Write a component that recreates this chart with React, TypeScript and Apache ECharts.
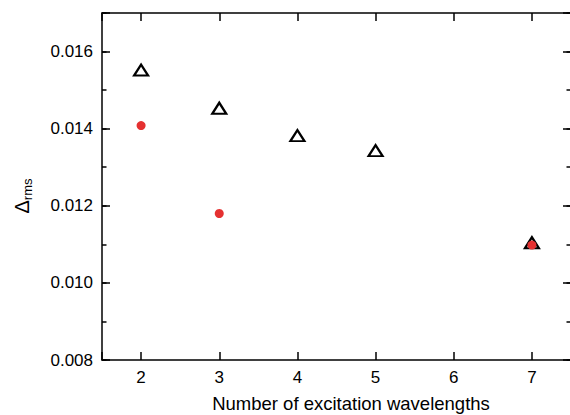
import React, { useEffect, useRef } from 'react';
import * as echarts from 'echarts';

// Data
const triangleX = [2, 3, 4, 5, 7];
const triangleY = [0.01552, 0.01453, 0.01382, 0.01343, 0.01104];
const dotX = [2, 3, 7];
const dotY = [0.01408, 0.0118, 0.01098];

const xTickLabels = ['2', '3', '4', '5', '6', '7'];
const yTickLabels = ['0.008', '0.010', '0.012', '0.014', '0.016'];

const xName = 'Number of excitation wavelengths';

const FONT = 'Liberation Sans, Arial, sans-serif';

export default function App() {
  const ref = useRef<HTMLDivElement>(null);

  useEffect(() => {
    document.body.style.margin = '0';
    if (!ref.current) return;
    const chart = echarts.init(ref.current, undefined, { renderer: 'svg' });

    const xLabelFmt = (v: number) => {
      const s = String(Math.round(v * 1000) / 1000);
      return xTickLabels.includes(s) ? s : '';
    };
    const yLabelFmt = (v: number) => {
      const s = v.toFixed(3);
      return yTickLabels.includes(s) ? s : '';
    };

    const lineStyle = { color: '#000', width: 1.5 };

    const xCommon = {
      type: 'value' as const,
      min: 1.5,
      max: 7.5,
      splitNumber: 6,
      splitLine: { show: false },
      axisLine: { show: true, onZero: false, lineStyle },
      axisTick: { show: true, inside: true, length: 8, lineStyle },
    };

    const yCommon = {
      type: 'value' as const,
      min: 0.008,
      max: 0.017,
      splitLine: { show: false },
    };

    chart.setOption({
      animation: false,
      backgroundColor: '#fff',
      grid: {
        left: 102,
        right: -1,
        top: 13,
        bottom: 55,
        containLabel: false,
        outerBoundsMode: 'none',
      },
      xAxis: [
        {
          ...xCommon,
          position: 'bottom',
          name: xName,
          nameLocation: 'middle',
          nameGap: 34,
          nameTextStyle: {
            fontFamily: FONT,
            fontSize: 18.5,
            color: '#000',
            padding: [0, 0, 0, 29],
          },
          axisLabel: {
            show: true,
            margin: 9,
            fontFamily: FONT,
            fontSize: 17,
            color: '#000',
            formatter: xLabelFmt,
          },
        },
        {
          ...xCommon,
          position: 'top',
          axisLabel: { show: false },
        },
      ],
      yAxis: [
        {
          ...yCommon,
          position: 'left',
          interval: 0.002,
          axisLine: { show: true, onZero: false, lineStyle },
          axisTick: { show: true, inside: true, length: 8, lineStyle },
          axisLabel: {
            show: true,
            margin: 9,
            fontFamily: FONT,
            fontSize: 17,
            color: '#000',
            formatter: yLabelFmt,
          },
          name: '{d|Δ}{s|rms}',
          nameLocation: 'middle',
          nameRotate: 90,
          nameGap: 68,
          nameTextStyle: {
            fontFamily: FONT,
            color: '#000',
            padding: [0, 19, 0, 0],
            rich: {
              d: { fontFamily: FONT, fontSize: 20, lineHeight: 22, verticalAlign: 'top', color: '#000' },
              s: { fontFamily: FONT, fontSize: 13, lineHeight: 13, verticalAlign: 'bottom', padding: [15, 0, 0, 0], color: '#000' },
            },
          },
        },
        {
          ...yCommon,
          position: 'left',
          interval: 0.001,
          axisLine: { show: false },
          axisTick: { show: true, inside: true, length: 4.5, lineStyle },
          axisLabel: { show: false },
        },
        {
          ...yCommon,
          position: 'right',
          interval: 0.002,
          axisLine: { show: true, onZero: false, lineStyle },
          axisTick: { show: true, inside: true, length: 8, lineStyle },
          axisLabel: { show: false },
        },
        {
          ...yCommon,
          position: 'right',
          interval: 0.001,
          axisLine: { show: false },
          axisTick: { show: true, inside: true, length: 4.5, lineStyle },
          axisLabel: { show: false },
        },
      ],
      series: [
        {
          type: 'scatter',
          xAxisIndex: 0,
          yAxisIndex: 0,
          symbol: 'triangle',
          symbolSize: [14, 11],
          itemStyle: { color: '#fff', borderColor: '#000', borderWidth: 2.2, opacity: 1 },
          data: triangleX.map((x, i) => [x, triangleY[i]]),
          z: 2,
        },
        {
          type: 'scatter',
          xAxisIndex: 0,
          yAxisIndex: 0,
          symbol: 'circle',
          symbolSize: 9,
          itemStyle: { color: '#e53131', opacity: 1 },
          data: dotX.map((x, i) => [x, dotY[i]]),
          z: 3,
        },
      ],
    });

    return () => chart.dispose();
  }, []);

  return (
    <div
      ref={ref}
      style={{ position: 'absolute', left: 0, top: 0, width: 570, height: 415 }}
    />
  );
}
